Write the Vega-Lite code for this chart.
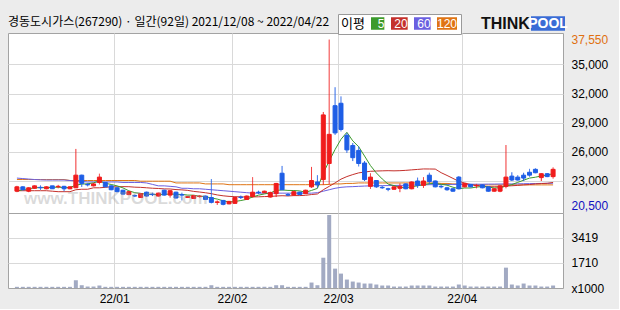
{
  "$schema": "https://vega.github.io/schema/vega-lite/v6.json",
  "autosize": {"type": "pad"},
  "padding": {"left": 7, "top": 13, "right": 10, "bottom": 4},
  "background": "#ececec",
  "title": {
    "text": "경동도시가스(267290) · 일간(92일) 2021/12/08 ~ 2022/04/22",
    "anchor": "start",
    "frame": "group",
    "font": "Noto Sans CJK KR",
    "fontSize": 12,
    "fontWeight": "normal",
    "color": "#000000",
    "offset": -15
  },
  "config": {
    "view": {"fill": "white", "stroke": "#a3a3a3", "strokeWidth": 1},
    "axis": {"gridColor": "#d9d9d9", "gridWidth": 1, "domain": false, "ticks": false, "labelFont": "Liberation Sans", "labelFontSize": 12, "labelColor": "#000000", "title": null}
  },
  "datasets": {
    "k": [
      {"i":0,"d":"2021-12-08","o":21950,"h":22500,"l":21850,"c":22400,"v":80,"ma5":21970,"ma20":22000,"ma60":23300,"ma120":23150},
      {"i":1,"d":"2021-12-09","o":22400,"h":22450,"l":22050,"c":22100,"v":80,"ma5":22100,"ma20":22000,"ma60":23250,"ma120":23150},
      {"i":2,"d":"2021-12-10","o":21950,"h":22350,"l":21850,"c":22300,"v":80,"ma5":22200,"ma20":22000,"ma60":23200,"ma120":23150},
      {"i":3,"d":"2021-12-13","o":22250,"h":22550,"l":22200,"c":22500,"v":80,"ma5":22300,"ma20":22000,"ma60":23150,"ma120":23150},
      {"i":4,"d":"2021-12-14","o":22350,"h":22550,"l":22100,"c":22300,"v":80,"ma5":22320,"ma20":22000,"ma60":23120,"ma120":23150},
      {"i":5,"d":"2021-12-15","o":22200,"h":22450,"l":22150,"c":22400,"v":80,"ma5":22320,"ma20":22000,"ma60":23100,"ma120":23150},
      {"i":6,"d":"2021-12-16","o":22500,"h":22500,"l":22200,"c":22200,"v":80,"ma5":22340,"ma20":21950,"ma60":23100,"ma120":23150},
      {"i":7,"d":"2021-12-17","o":22400,"h":22600,"l":22250,"c":22450,"v":80,"ma5":22370,"ma20":21900,"ma60":23100,"ma120":23150},
      {"i":8,"d":"2021-12-20","o":22450,"h":22500,"l":21950,"c":22200,"v":80,"ma5":22310,"ma20":21900,"ma60":23100,"ma120":23150},
      {"i":9,"d":"2021-12-21","o":22200,"h":22450,"l":22150,"c":22400,"v":80,"ma5":22330,"ma20":21900,"ma60":23050,"ma120":23050},
      {"i":10,"d":"2021-12-22","o":22300,"h":26300,"l":22300,"c":23600,"v":530,"ma5":22570,"ma20":22100,"ma60":23000,"ma120":23050},
      {"i":11,"d":"2021-12-23","o":23600,"h":23650,"l":22400,"c":22750,"v":190,"ma5":22680,"ma20":22150,"ma60":22950,"ma120":23050},
      {"i":12,"d":"2021-12-24","o":22650,"h":22800,"l":22450,"c":22600,"v":100,"ma5":22710,"ma20":22150,"ma60":22900,"ma120":23050},
      {"i":13,"d":"2021-12-27","o":22500,"h":22800,"l":22450,"c":22700,"v":100,"ma5":22810,"ma20":22300,"ma60":22900,"ma120":23050},
      {"i":14,"d":"2021-12-28","o":22850,"h":23750,"l":22650,"c":23400,"v":170,"ma5":23010,"ma20":22300,"ma60":22900,"ma120":23050},
      {"i":15,"d":"2021-12-29","o":22850,"h":22900,"l":22350,"c":22400,"v":80,"ma5":22770,"ma20":22350,"ma60":22900,"ma120":23050},
      {"i":16,"d":"2021-12-30","o":22500,"h":22550,"l":22050,"c":22100,"v":80,"ma5":22640,"ma20":22400,"ma60":22900,"ma120":23050},
      {"i":17,"d":"2022-01-03","o":22300,"h":22350,"l":21850,"c":21900,"v":80,"ma5":22500,"ma20":22400,"ma60":22900,"ma120":23050},
      {"i":18,"d":"2022-01-04","o":22050,"h":22100,"l":21600,"c":21650,"v":80,"ma5":22290,"ma20":22420,"ma60":22850,"ma120":23050},
      {"i":19,"d":"2022-01-05","o":21600,"h":21950,"l":21550,"c":21900,"v":80,"ma5":21990,"ma20":22412,"ma60":22850,"ma120":23050},
      {"i":20,"d":"2022-01-06","o":21500,"h":21600,"l":21350,"c":21450,"v":80,"ma5":21800,"ma20":22365,"ma60":22850,"ma120":23050},
      {"i":21,"d":"2022-01-07","o":21300,"h":21750,"l":21250,"c":21700,"v":80,"ma5":21720,"ma20":22345,"ma60":22850,"ma120":22980},
      {"i":22,"d":"2022-01-10","o":21850,"h":21900,"l":21400,"c":21450,"v":80,"ma5":21630,"ma20":22302,"ma60":22800,"ma120":22980},
      {"i":23,"d":"2022-01-11","o":21650,"h":21800,"l":21450,"c":21600,"v":80,"ma5":21620,"ma20":22257,"ma60":22650,"ma120":22980},
      {"i":24,"d":"2022-01-12","o":21450,"h":21800,"l":21400,"c":21750,"v":80,"ma5":21590,"ma20":22230,"ma60":22500,"ma120":22980},
      {"i":25,"d":"2022-01-13","o":22050,"h":22100,"l":21500,"c":21550,"v":80,"ma5":21610,"ma20":22187,"ma60":22500,"ma120":22980},
      {"i":26,"d":"2022-01-14","o":21550,"h":22050,"l":21300,"c":22000,"v":80,"ma5":21670,"ma20":22177,"ma60":22450,"ma120":22980},
      {"i":27,"d":"2022-01-17","o":21850,"h":21900,"l":21200,"c":21250,"v":80,"ma5":21630,"ma20":22117,"ma60":22400,"ma120":22800},
      {"i":28,"d":"2022-01-18","o":21600,"h":21800,"l":21000,"c":21550,"v":80,"ma5":21620,"ma20":22085,"ma60":22250,"ma120":22800},
      {"i":29,"d":"2022-01-19","o":21300,"h":21450,"l":21250,"c":21400,"v":80,"ma5":21550,"ma20":22035,"ma60":22250,"ma120":22800},
      {"i":30,"d":"2022-01-20","o":21200,"h":21550,"l":21150,"c":21500,"v":80,"ma5":21540,"ma20":21930,"ma60":22200,"ma120":22800},
      {"i":31,"d":"2022-01-21","o":21400,"h":21550,"l":21300,"c":21450,"v":80,"ma5":21430,"ma20":21865,"ma60":22200,"ma120":22800},
      {"i":32,"d":"2022-01-24","o":21450,"h":21500,"l":21050,"c":21100,"v":80,"ma5":21400,"ma20":21790,"ma60":22150,"ma120":22700},
      {"i":33,"d":"2022-01-25","o":21300,"h":23200,"l":20700,"c":20800,"v":190,"ma5":21250,"ma20":21695,"ma60":22100,"ma120":22700},
      {"i":34,"d":"2022-01-26","o":20800,"h":21000,"l":20550,"c":20850,"v":80,"ma5":21140,"ma20":21567,"ma60":22050,"ma120":22700},
      {"i":35,"d":"2022-01-27","o":21000,"h":21050,"l":20500,"c":20600,"v":80,"ma5":20960,"ma20":21477,"ma60":22000,"ma120":22700},
      {"i":36,"d":"2022-01-28","o":20650,"h":20950,"l":20600,"c":20900,"v":80,"ma5":20850,"ma20":21417,"ma60":21950,"ma120":22620},
      {"i":37,"d":"2022-02-03","o":20700,"h":21350,"l":20650,"c":21300,"v":80,"ma5":20890,"ma20":21387,"ma60":21900,"ma120":22620},
      {"i":38,"d":"2022-02-04","o":21350,"h":21500,"l":21150,"c":21300,"v":80,"ma5":20990,"ma20":21370,"ma60":21850,"ma120":22620},
      {"i":39,"d":"2022-02-07","o":21100,"h":21500,"l":21050,"c":21450,"v":80,"ma5":21110,"ma20":21347,"ma60":21800,"ma120":22620},
      {"i":40,"d":"2022-02-08","o":21400,"h":23400,"l":21300,"c":21850,"v":80,"ma5":21360,"ma20":21367,"ma60":21750,"ma120":22620},
      {"i":41,"d":"2022-02-09","o":21850,"h":22000,"l":21650,"c":21800,"v":80,"ma5":21540,"ma20":21372,"ma60":21750,"ma120":22620},
      {"i":42,"d":"2022-02-10","o":21800,"h":22000,"l":21750,"c":21950,"v":80,"ma5":21670,"ma20":21397,"ma60":21750,"ma120":22620},
      {"i":43,"d":"2022-02-11","o":21350,"h":21900,"l":21300,"c":21800,"v":80,"ma5":21770,"ma20":21407,"ma60":21750,"ma120":22620},
      {"i":44,"d":"2022-02-14","o":21700,"h":22800,"l":21350,"c":22750,"v":190,"ma5":22030,"ma20":21457,"ma60":21750,"ma120":22620},
      {"i":45,"d":"2022-02-15","o":23800,"h":24550,"l":22050,"c":22100,"v":190,"ma5":22080,"ma20":21485,"ma60":21750,"ma120":22620},
      {"i":46,"d":"2022-02-16","o":21600,"h":21750,"l":21450,"c":21550,"v":80,"ma5":22030,"ma20":21462,"ma60":21750,"ma120":22620},
      {"i":47,"d":"2022-02-17","o":21550,"h":22000,"l":21500,"c":21900,"v":80,"ma5":22020,"ma20":21495,"ma60":21750,"ma120":22620},
      {"i":48,"d":"2022-02-18","o":21850,"h":21900,"l":21550,"c":21600,"v":80,"ma5":21980,"ma20":21497,"ma60":21750,"ma120":22620},
      {"i":49,"d":"2022-02-21","o":21700,"h":22100,"l":21650,"c":22050,"v":80,"ma5":21840,"ma20":21530,"ma60":21750,"ma120":22620},
      {"i":50,"d":"2022-02-22","o":22400,"h":24450,"l":22300,"c":23050,"v":373,"ma5":22030,"ma20":21607,"ma60":21750,"ma120":22620},
      {"i":51,"d":"2022-02-23","o":22900,"h":23600,"l":22300,"c":22600,"v":190,"ma5":22240,"ma20":21665,"ma60":21800,"ma120":22620},
      {"i":52,"d":"2022-02-24","o":23150,"h":30100,"l":22600,"c":29800,"v":2070,"ma5":23820,"ma20":22100,"ma60":21950,"ma120":22620},
      {"i":53,"d":"2022-02-25","o":24800,"h":37550,"l":22650,"c":27800,"v":4990,"ma5":25060,"ma20":22450,"ma60":22100,"ma120":22650},
      {"i":54,"d":"2022-02-28","o":30750,"h":32650,"l":27750,"c":27950,"v":1324,"ma5":26240,"ma20":22805,"ma60":22250,"ma120":22700},
      {"i":55,"d":"2022-03-02","o":31000,"h":31700,"l":28100,"c":28300,"v":985,"ma5":27290,"ma20":23190,"ma60":22350,"ma120":22700},
      {"i":56,"d":"2022-03-03","o":27700,"h":27950,"l":25900,"c":26200,"v":577,"ma5":28010,"ma20":23455,"ma60":22400,"ma120":22750},
      {"i":57,"d":"2022-03-04","o":26650,"h":26900,"l":25050,"c":25400,"v":441,"ma5":27130,"ma20":23660,"ma60":22420,"ma120":22750},
      {"i":58,"d":"2022-03-07","o":26150,"h":26550,"l":24500,"c":24800,"v":373,"ma5":26530,"ma20":23835,"ma60":22450,"ma120":22800},
      {"i":59,"d":"2022-03-08","o":24850,"h":25050,"l":23000,"c":23150,"v":305,"ma5":25570,"ma20":23920,"ma60":22480,"ma120":22800},
      {"i":60,"d":"2022-03-10","o":22450,"h":23800,"l":22200,"c":23400,"v":305,"ma5":24590,"ma20":23997,"ma60":22500,"ma120":22800},
      {"i":61,"d":"2022-03-11","o":23050,"h":23100,"l":22300,"c":22400,"v":238,"ma5":23830,"ma20":24027,"ma60":22520,"ma120":22800},
      {"i":62,"d":"2022-03-14","o":22350,"h":22500,"l":22200,"c":22300,"v":170,"ma5":23210,"ma20":24045,"ma60":22520,"ma120":22800},
      {"i":63,"d":"2022-03-15","o":22200,"h":22300,"l":21950,"c":22150,"v":170,"ma5":22680,"ma20":24062,"ma60":22530,"ma120":22800},
      {"i":64,"d":"2022-03-16","o":22150,"h":22450,"l":22100,"c":22400,"v":100,"ma5":22530,"ma20":24045,"ma60":22540,"ma120":22800},
      {"i":65,"d":"2022-03-17","o":22250,"h":22750,"l":21850,"c":22450,"v":100,"ma5":22340,"ma20":24062,"ma60":22550,"ma120":22800},
      {"i":66,"d":"2022-03-18","o":22700,"h":22750,"l":22150,"c":22200,"v":100,"ma5":22300,"ma20":24095,"ma60":22560,"ma120":22800},
      {"i":67,"d":"2022-03-21","o":22200,"h":22950,"l":22150,"c":22900,"v":170,"ma5":22420,"ma20":24145,"ma60":22580,"ma120":22800},
      {"i":68,"d":"2022-03-22","o":23000,"h":23350,"l":22300,"c":22550,"v":170,"ma5":22500,"ma20":24192,"ma60":22600,"ma120":22800},
      {"i":69,"d":"2022-03-23","o":22550,"h":23400,"l":22300,"c":23000,"v":170,"ma5":22620,"ma20":24240,"ma60":22600,"ma120":22800},
      {"i":70,"d":"2022-03-24","o":23600,"h":23850,"l":22650,"c":22950,"v":170,"ma5":22720,"ma20":24235,"ma60":22620,"ma120":22800},
      {"i":71,"d":"2022-03-25","o":23000,"h":23050,"l":22350,"c":22400,"v":100,"ma5":22760,"ma20":24225,"ma60":22620,"ma120":22800},
      {"i":72,"d":"2022-03-28","o":22450,"h":22600,"l":22250,"c":22400,"v":100,"ma5":22660,"ma20":23855,"ma60":22640,"ma120":22750},
      {"i":73,"d":"2022-03-29","o":22300,"h":22400,"l":22000,"c":22100,"v":100,"ma5":22570,"ma20":23570,"ma60":22640,"ma120":22750},
      {"i":74,"d":"2022-03-30","o":22200,"h":22250,"l":21900,"c":21950,"v":100,"ma5":22360,"ma20":23270,"ma60":22650,"ma120":22700},
      {"i":75,"d":"2022-03-31","o":23400,"h":23500,"l":22150,"c":22200,"v":238,"ma5":22210,"ma20":22965,"ma60":22650,"ma120":22700},
      {"i":76,"d":"2022-04-01","o":22400,"h":22800,"l":22350,"c":22750,"v":170,"ma5":22280,"ma20":22792,"ma60":22660,"ma120":22650},
      {"i":77,"d":"2022-04-04","o":22650,"h":22700,"l":22350,"c":22400,"v":100,"ma5":22280,"ma20":22642,"ma60":22660,"ma120":22600},
      {"i":78,"d":"2022-04-05","o":22500,"h":22700,"l":22250,"c":22550,"v":100,"ma5":22370,"ma20":22530,"ma60":22670,"ma120":22600},
      {"i":79,"d":"2022-04-06","o":22600,"h":22650,"l":22250,"c":22300,"v":100,"ma5":22440,"ma20":22487,"ma60":22670,"ma120":22600},
      {"i":80,"d":"2022-04-07","o":22400,"h":22450,"l":21900,"c":21950,"v":100,"ma5":22390,"ma20":22415,"ma60":22680,"ma120":22600},
      {"i":81,"d":"2022-04-08","o":21950,"h":22250,"l":21900,"c":22200,"v":100,"ma5":22280,"ma20":22405,"ma60":22680,"ma120":22600},
      {"i":82,"d":"2022-04-11","o":21950,"h":22550,"l":21850,"c":22500,"v":100,"ma5":22300,"ma20":22415,"ma60":22690,"ma120":22600},
      {"i":83,"d":"2022-04-12","o":22450,"h":26700,"l":22250,"c":23400,"v":1392,"ma5":22470,"ma20":22477,"ma60":22700,"ma120":22600},
      {"i":84,"d":"2022-04-13","o":23500,"h":23900,"l":23000,"c":23100,"v":238,"ma5":22630,"ma20":22512,"ma60":22700,"ma120":22600},
      {"i":85,"d":"2022-04-14","o":23400,"h":23600,"l":23050,"c":23100,"v":170,"ma5":22860,"ma20":22545,"ma60":22710,"ma120":22600},
      {"i":86,"d":"2022-04-15","o":23600,"h":23850,"l":23000,"c":23300,"v":305,"ma5":23080,"ma20":22600,"ma60":22720,"ma120":22600},
      {"i":87,"d":"2022-04-18","o":23900,"h":24250,"l":23450,"c":23600,"v":170,"ma5":23300,"ma20":22635,"ma60":22730,"ma120":22600},
      {"i":88,"d":"2022-04-19","o":24200,"h":24300,"l":23800,"c":23850,"v":170,"ma5":23390,"ma20":22700,"ma60":22740,"ma120":22600},
      {"i":89,"d":"2022-04-20","o":23350,"h":23800,"l":23000,"c":23750,"v":100,"ma5":23520,"ma20":22737,"ma60":22750,"ma120":22600},
      {"i":90,"d":"2022-04-21","o":23750,"h":23800,"l":23400,"c":23450,"v":100,"ma5":23590,"ma20":22762,"ma60":22760,"ma120":22600},
      {"i":91,"d":"2022-04-22","o":23450,"h":24400,"l":23250,"c":24200,"v":170,"ma5":23770,"ma20":22852,"ma60":22770,"ma120":22600}
    ]
  },
  "spacing": 0,
  "bounds": "flush",
  "vconcat": [
    {
      "name": "price",
      "width": 555,
      "height": 180,
      "data": {"name": "k"},
      "title": {
        "text": "www.THINKPOOL.com",
        "orient": "bottom",
        "anchor": "start",
        "frame": "group",
        "offset": -22,
        "dx": 16,
        "font": "Liberation Sans",
        "fontSize": 17,
        "fontWeight": "bold",
        "color": "rgba(150,150,150,0.35)"
      },
      "encoding": {
        "x": {
          "field": "i",
          "type": "quantitative",
          "scale": {"domain": [-0.667, 91.833], "nice": false, "zero": false},
          "axis": {"values": [16.5, 36.5, 54.5, 75.5], "labels": false, "grid": true}
        }
      },
      "layer": [
        {
          "transform": [{"fold": ["ma120", "ma60", "ma20", "ma5"], "as": ["ma", "val"]}],
          "mark": {"type": "line", "interpolate": "linear", "strokeWidth": 1},
          "encoding": {
            "y": {
              "field": "val",
              "type": "quantitative",
              "scale": {"domain": [19707, 38229], "nice": false, "zero": false},
              "axis": {
                "orient": "right",
                "values": [20500, 23000, 26000, 29000, 32000, 35000, 37550],
                "labelExpr": "format(datum.value, ',')",
                "labelPadding": 8,
                "labelColor": {"condition": [{"test": "datum.value == 37550", "value": "#e07010"}, {"test": "datum.value == 20500", "value": "#1010c0"}], "value": "#000000"},
                "gridOpacity": {"condition": {"test": "datum.value == 20500 || datum.value == 37550", "value": 0}, "value": 1}
              }
            },
            "color": {
              "field": "ma",
              "type": "nominal",
              "scale": {"domain": ["ma5", "ma20", "ma60", "ma120"], "range": ["#3c9a2c", "#c4302b", "#6a5fe0", "#df7414"]},
              "legend": {
                "orient": "none",
                "legendX": 330,
                "legendY": -19,
                "direction": "horizontal",
                "columns": 4,
                "columnPadding": 5,
                "clipHeight": 13,
                "title": "이평",
                "titleOrient": "left",
                "titleFont": "Noto Sans CJK KR",
                "titleFontSize": 13,
                "titleFontWeight": "normal",
                "titleColor": "#000000",
                "titlePadding": 5,
                "symbolType": "M-1,-0.55H1M-1,-0.45H1M-1,-0.35H1M-1,-0.25H1M-1,-0.15H1M-1,-0.05H1M-1,0.05H1M-1,0.15H1M-1,0.25H1M-1,0.35H1M-1,0.45H1M-1,0.55H1",
                "symbolSize": 400,
                "symbolStrokeWidth": 1.5,
                "labelExpr": "replace(datum.label, 'ma', '')",
                "labelColor": "#ffffff",
                "labelFont": "Liberation Sans",
                "labelFontSize": 12,
                "labelAlign": "center",
                "labelOffset": -11,
                "fillColor": "#ffffff",
                "strokeColor": "#9a9a9a",
                "padding": 3
              }
            }
          }
        },
        {
          "mark": {"type": "rule", "strokeWidth": 1},
          "encoding": {
            "y": {
              "field": "l",
              "type": "quantitative",
              "scale": {"domain": [19707, 38229], "nice": false, "zero": false},
              "axis": {
                "orient": "right",
                "values": [20500, 23000, 26000, 29000, 32000, 35000, 37550],
                "labelExpr": "format(datum.value, ',')",
                "labelPadding": 8,
                "labelColor": {"condition": [{"test": "datum.value == 37550", "value": "#e07010"}, {"test": "datum.value == 20500", "value": "#1010c0"}], "value": "#000000"},
                "gridOpacity": {"condition": {"test": "datum.value == 20500 || datum.value == 37550", "value": 0}, "value": 1}
              }
            },
            "y2": {"field": "h"},
            "stroke": {"condition": {"test": "datum.c >= datum.o", "value": "#f01c1c"}, "value": "#1e5ee6"},
            "strokeDash": {
              "datum": "POOL",
              "type": "nominal",
              "scale": {"domain": ["POOL"], "range": [[1, 0]]},
              "legend": {
                "orient": "none",
                "legendX": 473,
                "legendY": -17,
                "clipHeight": 15,
                "title": "THINK",
                "titleOrient": "left",
                "titleFont": "Liberation Sans",
                "titleFontSize": 16,
                "titleFontWeight": "bold",
                "titleColor": "#111111",
                "titlePadding": 1,
                "symbolType": "M-1,-0.43H1V0.43H-1Z",
                "symbolSize": 1156,
                "symbolStrokeWidth": 0,
                "symbolFillColor": "#3a6cd6",
                "symbolStrokeColor": "#3a6cd6",
                "labelColor": "#ffffff",
                "labelFont": "Liberation Sans",
                "labelFontSize": 14,
                "labelFontWeight": "bold",
                "labelAlign": "center",
                "labelOffset": -17,
                "padding": 0
              }
            }
          }
        },
        {
          "mark": {"type": "bar", "size": 4, "strokeWidth": 1},
          "encoding": {
            "y": {
              "field": "o",
              "type": "quantitative",
              "scale": {"domain": [19707, 38229], "nice": false, "zero": false},
              "axis": {
                "orient": "right",
                "values": [20500, 23000, 26000, 29000, 32000, 35000, 37550],
                "labelExpr": "format(datum.value, ',')",
                "labelPadding": 8,
                "labelColor": {"condition": [{"test": "datum.value == 37550", "value": "#e07010"}, {"test": "datum.value == 20500", "value": "#1010c0"}], "value": "#000000"},
                "gridOpacity": {"condition": {"test": "datum.value == 20500 || datum.value == 37550", "value": 0}, "value": 1}
              }
            },
            "y2": {"field": "c"},
            "fill": {"condition": {"test": "datum.c >= datum.o", "value": "#f01c1c"}, "value": "#1e5ee6"},
            "stroke": {"condition": {"test": "datum.c >= datum.o", "value": "#f01c1c"}, "value": "#1e5ee6"}
          }
        }
      ]
    },
    {
      "name": "volume",
      "width": 555,
      "height": 75,
      "data": {"name": "k"},
      "mark": {"type": "bar", "size": 4, "color": "#a2aac3"},
      "encoding": {
        "x": {
          "field": "i",
          "type": "quantitative",
          "scale": {"domain": [-0.667, 91.833], "nice": false, "zero": false},
          "axis": {
            "values": [16.5, 36.5, 54.5, 75.5],
            "grid": true,
            "labelPadding": 5,
            "labelExpr": "datum.value < 20 ? '22/01' : datum.value < 40 ? '22/02' : datum.value < 60 ? '22/03' : '22/04'"
          }
        },
        "y": {
          "field": "v",
          "type": "quantitative",
          "scale": {"domain": [0, 5128], "nice": false},
          "axis": {
            "orient": "right",
            "values": [0, 1710, 3419],
            "labelPadding": 8,
            "labelExpr": "datum.value == 0 ? 'x1000' : datum.label",
            "format": "d",
            "gridOpacity": {"condition": {"test": "datum.value == 0", "value": 0}, "value": 1}
          }
        }
      }
    }
  ]
}
